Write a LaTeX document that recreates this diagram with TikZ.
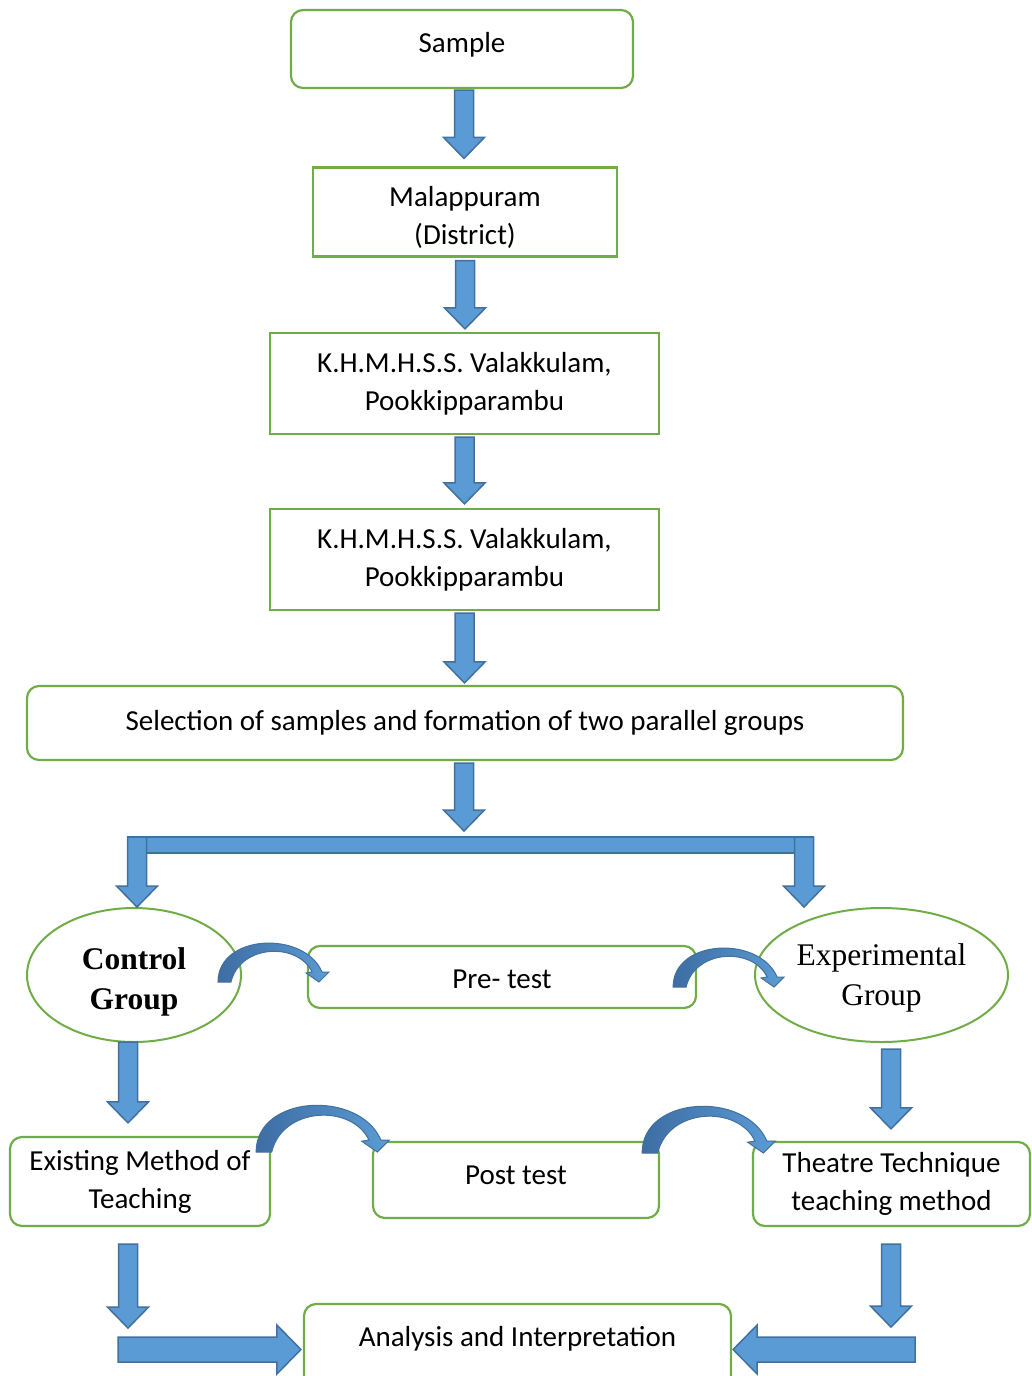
\documentclass[tikz,border=0pt]{standalone}
\usepackage{fontspec}
\setmainfont{Carlito}
\newfontfamily\timesfont{Liberation Serif}
\usepackage{tikz}
\usetikzlibrary{calc,shapes.geometric}
\definecolor{boxgreen}{HTML}{70AD47}
\definecolor{arrfill}{HTML}{5B9BD5}
\definecolor{arrline}{HTML}{41719C}
\definecolor{arrdark}{HTML}{3D6DA3}

\tikzset{
    box/.style={draw=boxgreen, line width=2.2pt, fill=white, inner sep=0pt,
                align=center, font=\fontsize{29}{38}\selectfont},
    rbox/.style={box, rounded corners=12pt},
    grp/.style={ellipse, draw=boxgreen, line width=2pt, fill=white, inner sep=0pt,
                align=center, font=\timesfont\fontsize{31.5}{40}\selectfont},
    blk/.style={fill=arrfill, draw=arrline, line width=1.5pt},
    curvblk/.style={left color=arrdark, right color=arrfill, draw=arrline, line width=1pt},
    curvarr/.pic={
        \draw[curvblk] (0,0) .. controls (0,-48) and (86,-52) .. (104,-10)
            -- (111,-10) -- (101,0) -- (88,-9) -- (94,-10)
            .. controls (80,-40) and (22,-38) .. (13,0) -- cycle;
    }
}

% block arrows: x from the start point, y from the end point
\newcommand\blkdown[2]{%
    \draw[blk] let \p1=#1, \p2=#2 in
        (\x1-9.5pt,\y1) -- (\x1+9.5pt,\y1) -- (\x1+9.5pt,\y2+21pt) -- (\x1+20.5pt,\y2+21pt)
        -- (\x1,\y2) -- (\x1-20.5pt,\y2+21pt) -- (\x1-9.5pt,\y2+21pt) -- cycle;}
\newcommand\blkright[2]{%
    \draw[blk] let \p1=#1, \p2=#2 in
        (\x1,\y1+12.5pt) -- (\x2-24pt,\y1+12.5pt) -- (\x2-24pt,\y1+24.5pt) -- (\x2,\y1)
        -- (\x2-24pt,\y1-24.5pt) -- (\x2-24pt,\y1-12.5pt) -- (\x1,\y1-12.5pt) -- cycle;}
\newcommand\blkleft[2]{%
    \draw[blk] let \p1=#1, \p2=#2 in
        (\x1,\y1+12.5pt) -- (\x2+24pt,\y1+12.5pt) -- (\x2+24pt,\y1+24.5pt) -- (\x2,\y1)
        -- (\x2+24pt,\y1-24.5pt) -- (\x2+24pt,\y1-12.5pt) -- (\x1,\y1-12.5pt) -- cycle;}

\begin{document}
\begin{tikzpicture}[x=1pt,y=-1pt]
    \useasboundingbox (0,0) rectangle (1032,1376);
    \clip (0,0) rectangle (1032,1376);

    % boxes
    \node[rbox, minimum width=342pt, minimum height=78pt, text depth=14pt] (sample) at (462,49) {Sample};
    \node[box, minimum width=304pt, minimum height=89pt] (mala) at (465,212) {\rule{0pt}{32pt}Malappuram\\(District)};
    \node[box, minimum width=389pt, minimum height=101pt] (school1) at (464.5,383.5) {K.H.M.H.S.S. Valakkulam,\\Pookkipparambu};
    \node[box, minimum width=389pt, minimum height=101pt] (school2) at (464.5,559.5) {K.H.M.H.S.S. Valakkulam,\\Pookkipparambu};
    \node[rbox, minimum width=876pt, minimum height=74pt] (select) at (465,723) {Selection of samples and formation of two parallel groups};

    \node[grp, minimum width=214pt, minimum height=134pt, font=\timesfont\bfseries\fontsize{31.5}{40}\selectfont] (ctrl) at (134,975) {\rule{0pt}{35pt}Control\\Group};
    \node[grp, minimum width=253pt, minimum height=134pt] (expt) at (881.5,975) {\rule{0pt}{28.5pt}Experimental\\Group};
    \node[rbox, minimum width=388pt, minimum height=62pt] (pre) at (502,977) {\rule{0pt}{24pt}Pre- test};

    \node[rbox, minimum width=260pt, minimum height=89pt] (exist) at (140,1181.5) {Existing Method of\\Teaching};
    \node[rbox, minimum width=286pt, minimum height=76pt, text depth=9pt] (post) at (516,1180) {Post test};
    \node[rbox, minimum width=277pt, minimum height=84pt] (theatre) at (891.5,1184) {Theatre Technique\\teaching method};

    \node[rbox, minimum width=427pt, minimum height=91pt, text depth=26pt] (analysis) at (517.5,1349.5) {Analysis and Interpretation};

    % straight arrows
    \blkdown{([xshift=2pt,yshift=-1pt]sample.south)}{([yshift=8pt]mala.north)}
    \blkdown{([yshift=-3pt]mala.south)}{([yshift=3pt]school1.north)}
    \blkdown{([yshift=-2pt]school1.south)}{([yshift=4pt]school2.north)}
    \blkdown{([yshift=-2pt]school2.south)}{([yshift=2pt]select.north)}

    % fork to the two groups
    \coordinate (forkL) at ([xshift=3pt]ctrl.north);
    \coordinate (forkR) at ([xshift=-77.5pt]expt.north);
    \blkdown{([xshift=-1pt,yshift=-2pt]select.south)}{([yshift=76pt]forkL)}
    \draw[blk] ([xshift=-9.5pt,yshift=70pt]forkL) rectangle ([xshift=9.5pt,yshift=54pt]forkR);
    \blkdown{([yshift=70pt]forkL)}{(forkL)}
    \blkdown{([yshift=70pt]forkR)}{(forkR)}

    \blkdown{([xshift=-6pt,yshift=1pt]ctrl.south)}{([yshift=13pt]exist.north)}
    \blkdown{([xshift=9.5pt,yshift=-6pt]expt.south)}{([yshift=12pt]theatre.north)}

    \blkdown{([xshift=-12pt,yshift=-17pt]exist.south)}{([yshift=-101pt]exist.south)}
    \blkdown{([xshift=-0.5pt,yshift=-17pt]theatre.south)}{([yshift=-100pt]theatre.south)}

    \coordinate (inL) at (118,1349.5);
    \coordinate (inR) at (915,1349.5);
    \blkright{(inL)}{([xshift=-2pt]analysis.west)}
    \blkleft{(inR)}{([xshift=1pt]analysis.east)}

    % curved arrows
    \pic at ([xshift=-24pt,yshift=-7pt]ctrl.east) {curvarr};
    \pic at ([xshift=-24pt,yshift=-10pt]pre.east) {curvarr};
    \pic[scale=1.2] at ([xshift=-15pt,yshift=29.5pt]exist.east) {curvarr};
    \pic[scale=1.2] at ([xshift=-18pt,yshift=27pt]post.east) {curvarr};
\end{tikzpicture}
\end{document}
